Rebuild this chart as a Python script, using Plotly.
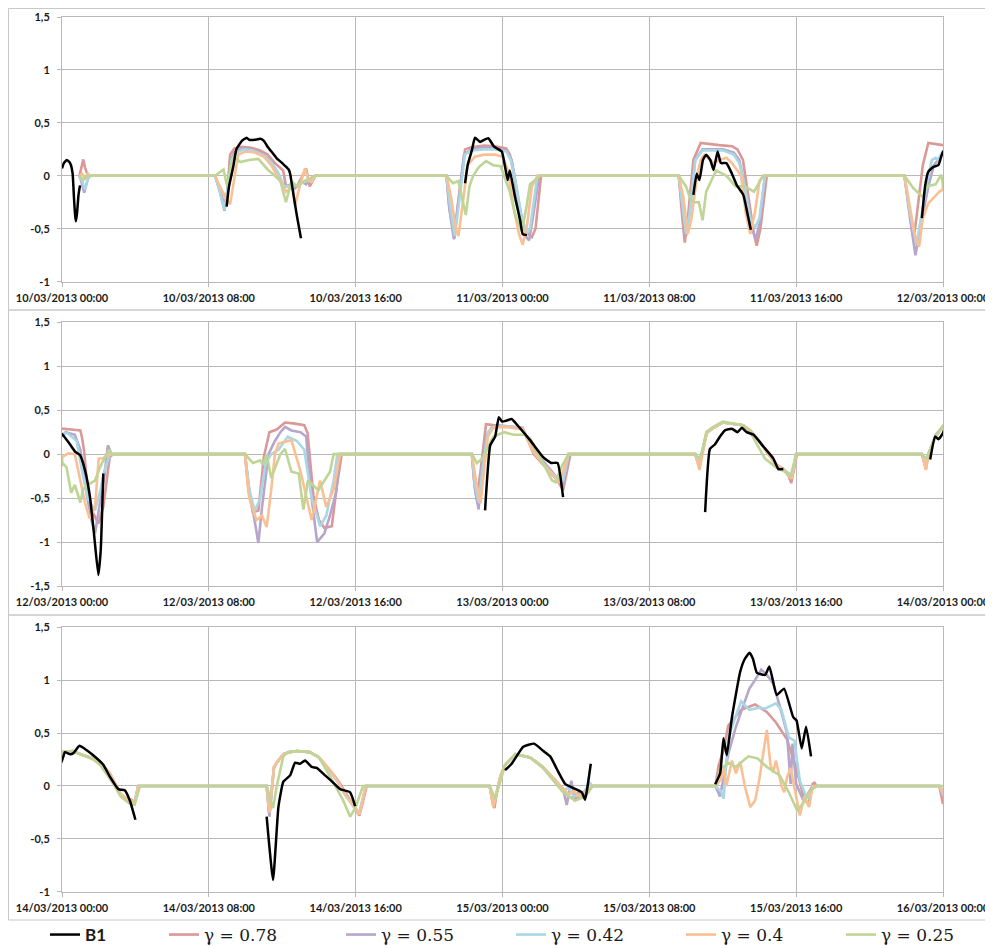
import pandas as pd
import plotly.graph_objects as go

# ---------------- data (hours since 10/03/2013 00:00, value) ----------------
B1 = [
    (0.0, 0.07), (0.1, 0.12), (0.26, 0.15), (0.4, 0.13), (0.49, 0.1), (0.58, 0.02), (0.65, -0.2), (0.72, -0.38),
    (0.76, -0.43), (0.82, -0.35), (0.9, -0.18), (0.98, -0.09), (1.5, None),
    (8.97, -0.29), (9.1, -0.1), (9.33, 0.085), (9.5, 0.25), (9.8, 0.33), (10.06, 0.36), (10.2, 0.34), (10.5, 0.34),
    (10.8, 0.35), (11.0, 0.33), (11.2, 0.275), (11.5, 0.21), (11.7, 0.165), (12.0, 0.12), (12.15, 0.095),
    (12.35, 0.06), (12.43, 0.02), (12.6, -0.165), (12.8, -0.38), (13.02, -0.59), (15.0, None),
    (21.96, -0.07), (22.1, 0.1), (22.33, 0.24), (22.5, 0.36), (22.78, 0.32), (23.0, 0.34), (23.23, 0.355),
    (23.54, 0.275), (23.96, 0.23), (24.14, 0.085), (24.28, -0.04), (24.4, 0.05), (24.68, -0.2), (24.96, -0.42),
    (25.1, -0.55), (25.33, -0.56), (27.0, None),
    (34.4, -0.18), (34.58, 0.02), (34.73, -0.04), (34.92, 0.15), (35.1, 0.2), (35.32, 0.15), (35.5, 0.055),
    (35.72, 0.23), (35.9, 0.12), (36.2, 0.12), (36.5, 0.02), (36.77, -0.09), (37.12, -0.18), (37.35, -0.36),
    (37.53, -0.51), (40.0, None),
    (46.85, -0.40), (47.03, -0.09), (47.2, 0.04), (47.48, 0.085), (47.75, 0.1), (48.0, 0.23), (48.26, 0.16),
    (48.44, 0.11), (48.71, 0.03), (48.98, -0.01), (49.25, -0.18), (49.52, -0.48), (49.76, -0.94), (49.98, -1.375),
    (50.11, -1.09), (50.25, -0.22), (52.0, None),
    (71.05, -0.64), (71.33, 0.1), (71.6, 0.2), (71.8, 0.42), (71.98, 0.37), (72.2, 0.38), (72.5, 0.4),
    (72.85, 0.32), (73.5, 0.16), (74.2, -0.03), (74.65, -0.1), (75.0, -0.1), (75.3, -0.49), (77.0, None),
    (83.04, -0.66), (83.3, 0.06), (83.57, 0.11), (83.85, 0.2), (84.12, 0.27), (84.5, 0.29), (84.8, 0.25),
    (85.04, 0.3), (85.3, 0.25), (85.68, 0.22), (86.2, 0.09), (86.76, -0.05), (87.03, -0.17), (87.3, -0.17), (90.0, None),
    (95.3, -0.06), (95.57, 0.2), (95.75, 0.17), (96.0, 0.24), (96.16, 0.32), (96.44, 0.3), (96.62, 0.31),
    (96.95, 0.38), (97.25, 0.35), (97.7, 0.29), (98.25, 0.2), (98.6, 0.09), (99.07, -0.03), (99.42, -0.04),
    (99.7, -0.14), (100.0, -0.32), (102.0, None),
    (107.15, -0.29), (107.5, -0.89), (107.79, -0.2), (108.06, 0.04), (108.43, 0.1), (108.7, 0.22), (108.97, 0.21),
    (109.24, 0.24), (109.6, 0.18), (109.88, 0.17), (110.33, 0.1), (110.6, 0.06), (111.15, -0.03), (111.7, -0.06),
    (111.97, -0.19), (115.0, None),
    (120.14, 0.15), (120.5, 0.21), (121.13, 0.37), (121.72, 0.40), (122.23, 0.33), (122.6, 0.28), (122.96, 0.16),
    (123.41, 0.02), (123.86, -0.02), (124.32, -0.06), (124.5, -0.13), (124.62, -0.02), (124.81, 0.21), (127.0, None),
    (131.59, 0.016), (131.86, 0.12), (132.04, 0.45), (132.22, 0.29), (132.5, 0.65), (132.95, 1.08), (133.2, 1.2),
    (133.46, 1.26), (133.65, 1.2), (133.86, 1.07), (134.31, 1.05), (134.54, 1.13), (134.94, 0.86), (135.34, 0.92),
    (135.84, 0.65), (136.02, 0.62), (136.3, 0.355), (136.54, 0.56), (136.81, 0.28),
]

G078 = [
    (0.95, 0), (1.1, 0.12), (1.16, 0.155), (1.25, 0.08), (1.38, 0.0), (1.45, -0.02), (1.53, 0),
    (8.34, 0), (8.6, -0.12), (8.85, -0.28), (9.0, -0.15), (9.16, 0.2), (9.4, 0.26), (9.8, 0.275), (10.3, 0.265),
    (10.8, 0.24), (11.2, 0.2), (11.6, 0.12), (12.05, 0.05), (12.2, -0.1), (12.5, -0.08), (12.8, -0.1), (13.1, 0.0),
    (13.3, 0.07), (13.5, -0.1), (13.65, -0.05), (13.8, 0),
    (20.95, 0), (21.1, -0.3), (21.38, -0.59), (21.55, -0.3), (21.96, 0.25), (22.3, 0.27), (23.0, 0.285), (23.6, 0.28),
    (24.2, 0.26), (24.4, 0.2), (24.6, 0.05), (24.8, -0.2), (25.1, -0.45), (25.4, -0.55), (25.6, -0.58), (25.8, -0.5), (26.1, 0),
    (33.6, 0), (33.8, -0.4), (33.93, -0.63), (34.1, -0.4), (34.4, 0.15), (34.8, 0.31), (35.2, 0.3), (35.8, 0.29),
    (36.5, 0.28), (36.8, 0.25), (37.1, 0.15), (37.4, -0.2), (37.7, -0.55), (37.85, -0.66), (38.05, -0.5), (38.4, 0),
    (45.9, 0), (46.15, -0.3), (46.4, -0.6), (46.55, -0.4), (46.9, 0.1), (47.2, 0.31), (47.5, 0.3), (48.0, 0.29),
    (48.5, 0.28), (49.0, 0.27), (49.08, 0.2), (49.2, 0.045), (49.35, -0.3), (49.6, -0.63), (49.98, -0.79),
    (50.25, -0.6), (50.6, -0.03), (50.8, 0),
    (57.97, 0), (58.15, -0.4), (58.4, -0.66), (58.7, -0.64), (59.0, -0.03), (59.3, 0.25), (59.7, 0.28), (60.15, 0.36),
    (60.6, 0.35), (61.2, 0.33), (61.38, 0.24), (61.7, -0.48), (62.0, -0.75), (62.3, -0.84), (62.7, -0.82),
    (62.95, -0.4), (63.24, 0),
    (70.33, 0), (70.45, -0.3), (70.6, -0.52), (70.8, -0.2), (71.1, 0.34), (71.5, 0.33), (72.2, 0.32), (73.1, 0.3),
    (73.7, 0.0), (74.6, -0.2), (75.0, -0.3), (75.3, -0.41), (75.5, -0.2), (75.7, 0),
    (82.5, 0), (82.65, -0.1), (82.75, -0.1), (82.85, 0), (83.13, 0.24), (83.5, 0.3), (84.0, 0.36), (85.1, 0.33),
    (85.5, 0.27), (85.95, 0.16), (86.5, 0.0), (86.9, -0.12), (87.3, -0.17), (87.6, -0.25), (87.73, -0.33),
    (87.9, -0.15), (88.04, 0),
    (94.85, 0), (95.0, -0.12), (95.07, -0.15), (95.2, 0), (95.6, 0.2), (96.0, 0.32), (96.6, 0.33), (97.0, 0.3),
    (97.7, 0.26), (98.07, 0.22), (98.6, 0.12), (98.9, 0.02), (99.2, -0.08), (99.5, -0.12), (99.8, -0.13),
    (99.95, -0.17), (100.16, 0),
    (107.15, 0), (107.3, -0.28), (107.45, 0.0), (107.55, 0.18), (107.7, 0.22), (108.06, 0.3), (108.4, 0.32),
    (108.8, 0.33), (109.5, 0.32), (110.0, 0.27), (110.5, 0.17), (111.0, 0.06), (111.4, -0.05), (111.9, -0.2),
    (112.2, -0.28), (112.4, -0.15), (112.6, 0),
    (119.3, 0), (119.45, -0.15), (119.56, -0.21), (119.7, -0.05), (119.9, 0.1), (120.15, 0.2), (120.7, 0.3),
    (121.5, 0.27), (122.2, 0.18), (122.95, 0.04), (123.3, -0.03), (123.6, -0.1), (123.95, -0.12), (124.4, -0.08), (124.9, 0),
    (131.6, 0), (131.78, 0.2), (132.05, 0.34), (132.3, 0.57), (133.0, 0.72), (133.76, 0.77), (134.4, 0.7),
    (134.9, 0.6), (135.5, 0.44), (136.0, 0.17), (136.4, -0.1), (136.67, -0.18), (136.9, 0.02), (137.0, 0.03), (137.1, 0),
    (143.8, 0), (144.0, -0.17),
]

G055 = [
    (0.95, 0), (1.05, -0.05), (1.21, -0.16), (1.32, -0.08), (1.45, 0), (1.53, 0),
    (8.34, 0), (8.6, -0.15), (8.85, -0.33), (9.05, -0.1), (9.2, 0.15), (9.4, 0.22), (9.8, 0.26), (10.3, 0.25),
    (10.8, 0.22), (11.3, 0.15), (11.7, 0.05), (12.0, -0.08), (12.3, -0.1), (12.7, -0.12), (13.0, -0.05),
    (13.3, -0.08), (13.6, -0.02), (13.8, 0),
    (20.95, 0), (21.1, -0.3), (21.35, -0.6), (21.55, -0.3), (21.9, 0.2), (22.3, 0.25), (23.0, 0.27), (23.6, 0.26),
    (24.2, 0.24), (24.5, 0.15), (24.7, -0.05), (25.0, -0.35), (25.3, -0.58), (25.45, -0.61), (25.65, -0.4), (26.0, 0),
    (33.6, 0), (33.8, -0.3), (34.0, -0.57), (34.2, -0.35), (34.5, 0.15), (34.9, 0.25), (35.3, 0.25), (36.0, 0.25),
    (36.6, 0.22), (36.9, 0.15), (37.2, -0.1), (37.5, -0.45), (37.8, -0.6), (38.0, -0.45), (38.3, 0),
    (45.9, 0), (46.2, -0.4), (46.5, -0.75), (46.75, -0.5), (47.2, -0.1), (47.5, 0.1), (48.0, 0.2), (48.2, 0.25),
    (48.7, 0.22), (49.0, 0.05), (49.3, -0.4), (49.6, -0.75), (49.8, -0.9), (50.0, -0.65), (50.3, -0.26),
    (50.5, 0.1), (50.6, 0.05), (50.7, 0),
    (57.97, 0), (58.2, -0.4), (58.45, -0.7), (58.7, -1.01), (58.9, -0.6), (59.25, 0.0), (59.6, 0.15), (59.9, 0.25),
    (60.15, 0.31), (60.5, 0.27), (61.0, 0.25), (61.3, 0.2), (61.6, -0.5), (61.9, -1.0), (62.3, -0.9), (62.6, -0.7),
    (62.95, -0.42), (63.1, 0),
    (70.33, 0), (70.5, -0.4), (70.7, -0.63), (70.85, -0.2), (71.1, 0.2), (71.4, 0.3), (72.0, 0.32), (73.0, 0.3),
    (73.7, 0.05), (74.6, -0.18), (75.0, -0.28), (75.3, -0.35), (75.6, 0),
    (82.5, 0), (82.7, -0.12), (82.85, 0), (83.13, 0.25), (83.5, 0.3), (84.0, 0.36), (85.1, 0.33), (85.5, 0.27),
    (85.95, 0.16), (86.5, 0.0), (86.9, -0.12), (87.3, -0.17), (87.6, -0.22), (87.75, -0.28), (87.9, -0.12), (88.0, 0),
    (94.85, 0), (95.07, -0.17), (95.2, 0), (95.6, 0.22), (96.0, 0.32), (96.6, 0.33), (97.0, 0.3), (97.7, 0.26),
    (98.07, 0.22), (98.6, 0.12), (98.9, 0.02), (99.2, -0.08), (99.5, -0.12), (99.8, -0.14), (99.95, -0.16), (100.15, 0),
    (107.15, 0), (107.3, -0.29), (107.45, 0.0), (107.55, 0.17), (107.7, 0.22), (108.06, 0.3), (108.4, 0.32),
    (108.8, 0.33), (109.5, 0.32), (110.0, 0.27), (110.5, 0.16), (111.0, 0.05), (111.4, -0.06), (111.9, -0.19),
    (112.2, -0.26), (112.4, -0.12), (112.55, 0),
    (119.3, 0), (119.5, -0.18), (119.7, -0.05), (119.9, 0.1), (120.15, 0.2), (120.7, 0.3), (121.5, 0.27),
    (122.2, 0.18), (122.95, 0.04), (123.3, -0.03), (123.5, -0.18), (123.75, 0.05), (123.9, -0.08), (124.2, -0.06),
    (124.5, -0.1), (124.9, 0),
    (131.6, 0), (131.85, -0.1), (132.3, 0.3), (132.7, 0.55), (133.1, 0.75), (133.45, 0.92), (133.76, 1.0),
    (134.1, 1.1), (134.4, 1.05), (134.75, 0.97), (135.1, 0.76), (135.5, 0.5), (135.7, 0.02), (135.8, 0.4),
    (136.0, 0.02), (136.4, -0.14), (136.9, 0), (137.1, 0),
    (143.8, 0), (144.0, -0.05),
]

G042 = [
    (0.95, 0), (1.1, -0.05), (1.25, -0.13), (1.4, -0.03), (1.53, 0),
    (8.34, 0), (8.6, -0.15), (8.85, -0.32), (9.05, -0.1), (9.25, 0.15), (9.5, 0.22), (9.9, 0.25), (10.4, 0.24),
    (10.9, 0.2), (11.4, 0.13), (11.8, 0.02), (12.1, -0.1), (12.5, -0.1), (12.9, -0.08), (13.3, -0.05), (13.6, -0.03), (13.8, 0),
    (20.95, 0), (21.15, -0.3), (21.4, -0.57), (21.6, -0.3), (21.95, 0.2), (22.3, 0.24), (23.0, 0.25), (23.6, 0.25),
    (24.2, 0.23), (24.45, 0.15), (24.7, -0.05), (25.0, -0.35), (25.3, -0.55), (25.5, -0.5), (25.9, 0),
    (33.6, 0), (33.85, -0.35), (34.0, -0.55), (34.2, -0.35), (34.5, 0.15), (34.9, 0.24), (35.3, 0.24), (36.0, 0.24),
    (36.6, 0.2), (36.9, 0.12), (37.2, -0.1), (37.5, -0.4), (37.75, -0.49), (38.0, -0.4), (38.3, 0),
    (45.9, 0), (46.2, -0.35), (46.55, -0.65), (46.8, -0.4), (47.2, 0.0), (47.4, 0.15), (47.6, 0.17), (47.7, 0.15),
    (48.0, 0.23), (48.3, 0.24), (48.8, 0.15), (49.1, -0.2), (49.4, -0.5), (49.8, -0.64), (50.1, -0.4), (50.3, -0.2), (50.6, 0),
    (57.97, 0), (58.2, -0.4), (58.5, -0.65), (58.8, -0.5), (59.1, -0.1), (59.4, 0.0), (59.8, 0.05), (60.3, 0.2),
    (60.8, 0.15), (61.2, 0.05), (61.6, -0.5), (62.06, -0.82), (62.4, -0.7), (62.8, -0.3), (63.0, 0),
    (70.33, 0), (70.5, -0.35), (70.7, -0.55), (70.9, -0.2), (71.2, 0.25), (71.5, 0.31), (72.2, 0.32), (73.1, 0.29),
    (73.7, 0.02), (74.6, -0.2), (75.0, -0.27), (75.3, -0.3), (75.6, 0),
    (82.5, 0), (82.7, -0.1), (82.85, 0), (83.13, 0.24), (83.5, 0.3), (84.0, 0.36), (85.1, 0.33), (85.5, 0.27),
    (85.95, 0.16), (86.5, 0.0), (86.9, -0.12), (87.3, -0.17), (87.6, -0.22), (87.75, -0.25), (87.9, -0.1), (88.0, 0),
    (94.85, 0), (95.07, -0.15), (95.2, 0), (95.6, 0.2), (96.0, 0.32), (96.6, 0.33), (97.0, 0.3), (97.7, 0.26),
    (98.07, 0.22), (98.6, 0.12), (98.9, 0.02), (99.2, -0.08), (99.5, -0.12), (99.8, -0.14), (99.95, -0.15), (100.15, 0),
    (107.15, 0), (107.3, -0.25), (107.45, 0.0), (107.55, 0.17), (107.7, 0.22), (108.06, 0.3), (108.4, 0.32),
    (108.8, 0.33), (109.5, 0.32), (110.0, 0.27), (110.5, 0.16), (111.0, 0.04), (111.4, -0.08), (111.9, -0.2),
    (112.2, -0.25), (112.4, -0.1), (112.55, 0),
    (119.3, 0), (119.5, -0.17), (119.7, -0.05), (119.9, 0.1), (120.15, 0.2), (120.7, 0.3), (121.5, 0.27),
    (122.2, 0.18), (122.95, 0.04), (123.3, -0.04), (123.6, -0.02), (123.9, -0.1), (124.3, -0.08), (124.6, -0.02),
    (124.75, 0.03), (124.9, 0),
    (131.6, 0), (131.9, -0.05), (132.05, -0.12), (132.3, 0.46), (132.75, 0.68), (133.0, 0.8), (133.45, 0.72),
    (134.0, 0.74), (134.3, 0.73), (134.9, 0.78), (135.2, 0.72), (135.6, 0.46), (135.9, 0.43), (136.2, 0.05),
    (136.6, -0.12), (136.9, -0.03), (137.1, 0),
    (143.8, 0), (144.0, -0.08),
]

G040 = [
    (0.95, 0), (1.1, 0.02), (1.25, -0.03), (1.4, 0.02), (1.53, 0),
    (8.34, 0), (8.6, -0.1), (8.9, -0.2), (9.16, -0.27), (9.4, 0.0), (9.6, 0.2), (10.0, 0.23), (10.5, 0.22),
    (11.0, 0.18), (11.4, 0.1), (11.8, -0.02), (12.2, -0.15), (12.55, -0.1), (12.7, -0.28), (12.95, -0.1),
    (13.24, 0.07), (13.45, -0.05), (13.6, -0.06), (13.8, 0),
    (20.95, 0), (21.2, -0.2), (21.45, -0.5), (21.6, -0.57), (21.8, -0.3), (22.1, 0.1), (22.5, 0.18), (23.0, 0.2),
    (23.6, 0.2), (24.0, 0.18), (24.3, 0.05), (24.6, -0.3), (24.9, -0.55), (25.1, -0.65), (25.35, -0.45),
    (25.6, -0.1), (25.9, 0),
    (33.6, 0), (33.85, -0.2), (34.1, -0.55), (34.3, -0.4), (34.6, 0.0), (34.8, 0.15), (35.0, 0.2), (35.3, 0.15),
    (35.5, 0.12), (35.8, 0.15), (36.2, 0.17), (36.5, 0.12), (37.0, 0.0), (37.25, -0.35), (37.5, -0.55),
    (37.75, -0.35), (38.0, -0.05), (38.2, 0),
    (45.9, 0), (46.2, -0.3), (46.45, -0.55), (46.7, -0.67), (46.9, -0.4), (47.2, -0.26), (47.5, -0.2),
    (47.8, -0.15), (47.98, -0.13), (48.02, -0.03), (48.35, 0.01), (48.7, 0.0), (49.0, -0.3), (49.25, -0.55),
    (49.5, -0.73), (49.8, -0.6), (50.0, -0.05), (50.2, -0.05), (50.6, 0),
    (57.97, 0), (58.2, -0.5), (58.6, -0.75), (58.9, -0.7), (59.15, -0.83), (59.4, -0.4), (59.6, 0.0), (59.8, 0.12),
    (60.5, 0.16), (61.0, -0.2), (61.6, -0.75), (62.06, -0.3), (62.4, -0.6), (62.8, -0.4), (63.15, 0),
    (70.33, 0), (70.55, -0.3), (70.8, -0.56), (71.0, -0.2), (71.2, 0.2), (71.5, 0.3), (72.2, 0.31), (73.1, 0.28),
    (73.7, 0.02), (74.6, -0.2), (75.1, -0.32), (75.45, -0.1), (75.6, 0),
    (82.5, 0), (82.73, -0.18), (82.9, 0), (83.13, 0.24), (83.5, 0.3), (84.0, 0.36), (85.1, 0.33), (85.5, 0.27),
    (85.95, 0.16), (86.5, 0.0), (86.9, -0.12), (87.3, -0.17), (87.6, -0.24), (87.75, -0.28), (87.9, -0.12), (88.0, 0),
    (94.85, 0), (95.07, -0.18), (95.2, 0), (95.6, 0.2), (96.0, 0.32), (96.6, 0.33), (97.0, 0.3), (97.7, 0.26),
    (98.07, 0.22), (98.6, 0.12), (98.9, 0.02), (99.2, -0.08), (99.5, -0.12), (99.8, -0.14), (99.95, -0.17), (100.15, 0),
    (107.15, 0), (107.3, -0.25), (107.45, 0.0), (107.55, 0.18), (107.7, 0.22), (108.06, 0.3), (108.4, 0.32),
    (108.8, 0.33), (109.5, 0.32), (110.0, 0.27), (110.5, 0.17), (111.0, 0.05), (111.4, -0.07), (111.9, -0.2),
    (112.2, -0.27), (112.4, -0.12), (112.55, 0),
    (119.3, 0), (119.5, -0.2), (119.7, -0.05), (119.9, 0.1), (120.15, 0.2), (120.7, 0.3), (121.5, 0.27),
    (122.2, 0.18), (122.95, 0.04), (123.3, -0.03), (123.6, -0.08), (123.9, -0.05), (124.2, -0.1), (124.5, -0.06), (124.9, 0),
    (131.6, 0), (131.86, 0.05), (132.05, 0.16), (132.2, 0.0), (132.5, 0.24), (132.72, 0.12), (132.95, 0.23),
    (133.2, 0.0), (133.5, -0.2), (133.76, -0.14), (134.0, 0.07), (134.4, 0.53), (134.6, 0.2), (134.75, 0.13),
    (134.9, 0.24), (135.2, 0.0), (135.35, -0.06), (135.5, 0.08), (135.7, 0.17), (136.0, -0.12), (136.2, -0.28),
    (136.45, -0.1), (136.7, -0.2), (136.9, 0), (137.1, 0),
    (143.8, 0), (144.0, -0.06),
]

G025 = [
    (0.95, 0), (1.16, -0.04), (1.35, 0), (1.53, 0),
    (8.34, 0), (8.8, 0.06), (9.0, -0.1), (9.2, 0.1), (9.37, 0.18), (9.7, 0.13), (10.2, 0.15), (10.7, 0.16),
    (11.2, 0.06), (11.6, 0.0), (11.9, -0.05), (12.2, -0.25), (12.5, -0.05), (12.8, -0.1), (13.2, -0.05), (13.8, 0),
    (20.95, 0), (21.3, -0.07), (21.6, -0.05), (22.0, -0.37), (22.2, -0.1), (22.4, 0.0), (22.7, 0.08), (23.1, 0.14),
    (23.5, 0.1), (23.9, 0.09), (24.1, 0.0), (24.4, -0.15), (24.7, -0.37), (25.05, -0.52), (25.3, -0.3),
    (25.5, -0.08), (26.05, 0),
    (33.6, 0), (34.0, -0.1), (34.2, -0.2), (34.4, -0.25), (34.7, -0.25), (34.9, -0.42), (35.1, -0.15), (35.5, 0.0),
    (35.65, 0.05), (36.2, 0.0), (36.7, -0.1), (37.2, -0.1), (37.7, -0.15), (38.2, 0),
    (45.9, 0), (46.4, -0.12), (46.9, -0.2), (47.1, -0.1), (47.6, -0.08), (47.9, 0.01), (47.98, -0.05),
    (48.02, -0.1), (48.25, -0.15), (48.5, -0.44), (48.7, -0.35), (49.0, -0.55), (49.15, -0.4), (49.4, -0.35),
    (49.8, -0.3), (50.07, -0.15), (50.3, -0.05), (50.56, 0.05), (50.7, 0),
    (57.97, 0), (58.4, -0.1), (58.8, -0.07), (58.95, -0.12), (59.15, 0.0), (59.4, -0.27), (59.9, 0.0), (60.15, 0.06),
    (60.5, -0.2), (60.9, -0.22), (61.15, -0.63), (61.4, -0.3), (61.97, -0.41), (62.6, -0.2), (62.8, 0),
    (70.33, 0), (70.6, -0.1), (70.9, -0.05), (71.5, 0.2), (72.1, 0.25), (72.6, 0.22), (73.2, 0.22), (73.5, 0.18),
    (73.96, 0.0), (74.7, -0.3), (74.9, -0.32), (75.2, -0.15), (75.6, 0),
    (82.5, 0), (82.7, -0.05), (82.85, 0), (83.1, 0.25), (83.4, 0.3), (84.0, 0.37), (85.1, 0.33), (85.5, 0.25),
    (85.9, 0.1), (86.3, -0.05), (86.9, -0.15), (87.4, -0.2), (87.7, -0.25), (88.0, 0),
    (94.85, 0), (95.07, -0.05), (95.2, 0.0), (95.6, 0.2), (96.0, 0.32), (96.6, 0.33), (97.0, 0.3), (97.7, 0.25),
    (98.07, 0.2), (98.8, 0.02), (99.2, -0.1), (99.7, -0.17), (99.95, -0.18), (100.25, 0),
    (107.15, 0), (107.5, -0.21), (107.7, 0.0), (108.06, 0.28), (108.3, 0.32), (108.8, 0.33), (109.5, 0.32),
    (110.0, 0.27), (110.6, 0.09), (111.3, -0.13), (111.7, -0.29), (112.0, -0.2), (112.4, 0),
    (119.3, 0), (119.6, -0.12), (119.8, 0.0), (120.15, 0.2), (120.7, 0.3), (121.5, 0.27), (122.2, 0.17),
    (122.9, 0.02), (123.3, -0.06), (123.95, -0.14), (124.5, -0.1), (124.9, 0),
    (131.6, 0), (131.85, 0.15), (132.3, 0.22), (132.7, 0.18), (133.4, 0.28), (133.9, 0.26), (134.4, 0.18),
    (135.1, 0.1), (135.6, -0.06), (136.05, -0.23), (136.4, -0.16), (136.7, -0.06), (137.1, 0),
    (143.8, 0), (144.0, 0),
]

SERIES_NAMES = ["B1", "γ = 0.78", "γ = 0.55", "γ = 0.42", "γ = 0.4", "γ = 0.25"]
PANEL_STARTS = ["2013-03-10 00:00", "2013-03-12 00:00", "2013-03-14 00:00"]
Y_TICKS_A = [-1, -0.5, 0, 0.5, 1, 1.5]
Y_TEXT_A = ["-1", "-0,5", "0", "0,5", "1", "1,5"]
Y_TICKS_B = [-1.5, -1, -0.5, 0, 0.5, 1, 1.5]
Y_TEXT_B = ["-1,5", "-1", "-0,5", "0", "0,5", "1", "1,5"]

# ---------------- figure ----------------
# The page body has an 8px margin, so the figure is sized/positioned with that offset.
OFF = 8
W, H = 993 - OFF, 949 - OFF
BASE = pd.Timestamp("2013-03-10 00:00")


def to_xy(points):
    xs = [BASE + pd.Timedelta(hours=h) for h, _ in points]
    ys = [v for _, v in points]
    return xs, ys


def px(p):
    return max(0.0, (p - OFF) / W)


def py(p):
    return min(1.0, 1 - (p - OFF) / H)


series = [
    (SERIES_NAMES[1], G078, "#DA9896", 2.6, "linear"),
    (SERIES_NAMES[2], G055, "#B6A6CB", 2.6, "linear"),
    (SERIES_NAMES[3], G042, "#A9D7E6", 2.6, "linear"),
    (SERIES_NAMES[4], G040, "#FAC093", 2.6, "linear"),
    (SERIES_NAMES[5], G025, "#BFD596", 2.6, "linear"),
    (SERIES_NAMES[0], B1, "#000000", 2.5, "spline"),
]
legend_ids = {SERIES_NAMES[0]: "legend", SERIES_NAMES[1]: "legend2", SERIES_NAMES[2]: "legend3",
              SERIES_NAMES[3]: "legend4", SERIES_NAMES[4]: "legend5", SERIES_NAMES[5]: "legend6"}
# legend anchor positions (page px) and anchors, tuned so the samples land where the reference has them
legend_pos = {SERIES_NAMES[0]: (112, "right"), SERIES_NAMES[1]: (164, "left"), SERIES_NAMES[2]: (341, "left"),
              SERIES_NAMES[3]: (511, "left"), SERIES_NAMES[4]: (681, "left"), SERIES_NAMES[5]: (841, "left")}

fig = go.Figure()
for pi in range(3):
    sfx = "" if pi == 0 else str(pi + 1)
    for name, pts, color, lw, shape in series:
        xs, ys = to_xy(pts)
        line = dict(color=color, width=lw, shape=shape)
        if shape == "spline":
            line["smoothing"] = 0.4
        fig.add_trace(go.Scatter(
            x=xs, y=ys, mode="lines", name=name, line=line,
            connectgaps=False, xaxis="x" + sfx, yaxis="y" + sfx,
            showlegend=(pi == 0), legend=legend_ids[name], hoverinfo="skip",
        ))

panels = [(17, 281.7, [-1, 1.5], Y_TICKS_A, Y_TEXT_A),
          (322.3, 586.0, [-1.5, 1.5], Y_TICKS_B, Y_TEXT_B),
          (627.3, 891.7, [-1, 1.5], Y_TICKS_A, Y_TEXT_A)]

GRID = "#B8B8B8"
tickfont = dict(family="Lato, 'Open Sans', sans-serif", size=11, color="#1a1a1a", weight="bold")
layout = dict(
    width=W, height=H, margin=dict(l=0, r=0, t=0, b=0, autoexpand=False),
    paper_bgcolor="white", plot_bgcolor="white",
)
for pi, (top, bot, yr, tv, tt) in enumerate(panels):
    sfx = "" if pi == 0 else str(pi + 1)
    start = pd.Timestamp(PANEL_STARTS[pi])
    end = start + pd.Timedelta(hours=48)
    layout["xaxis" + sfx] = dict(
        domain=[px(62), px(943)], anchor="y" + sfx, type="date",
        range=[start, end], tick0=start, dtick=8 * 3600 * 1000,
        tickformat="%d/%m/%Y %H:%M", showgrid=True, gridcolor=GRID, gridwidth=1,
        ticks="outside", ticklen=4, tickcolor=GRID, showline=True, linecolor=GRID,
        mirror=True, tickfont=tickfont, zeroline=False, ticklabelstandoff=2,
    )
    layout["yaxis" + sfx] = dict(
        domain=[py(bot), py(top)], anchor="x" + sfx, range=yr,
        tickmode="array", tickvals=tv, ticktext=tt, showgrid=True, gridcolor=GRID,
        gridwidth=1, zeroline=False, ticks="outside", ticklen=4, tickcolor=GRID,
        showline=True, linecolor=GRID, mirror=True, tickfont=tickfont, ticklabelstandoff=5,
    )

for name in SERIES_NAMES:
    lid = legend_ids[name]
    if name == "B1":
        font = dict(family="Lato, sans-serif", size=17, color="#1a1a1a", weight="bold")
    else:
        font = dict(family="'DejaVu Serif', serif", size=17, color="#1a1a1a")
    xpos, xanc = legend_pos[name]
    layout[lid] = dict(
        x=px(xpos), xanchor=xanc, y=py(935), yanchor="middle",
        orientation="h", bgcolor="rgba(0,0,0,0)", borderwidth=0, font=font,
        itemwidth=30, tracegroupgap=0,
    )

shapes = []
for top, bot in [(8.5, 310), (310, 615), (615, 920)]:
    shapes.append(dict(type="rect", xref="paper", yref="paper", x0=0.0005, x1=px(992),
                       y0=py(bot), y1=py(top), line=dict(color="#C8C8C8", width=1),
                       fillcolor="rgba(0,0,0,0)", layer="below"))
layout["shapes"] = shapes

fig.update_layout(**layout)
fig.write_html("out.html")
